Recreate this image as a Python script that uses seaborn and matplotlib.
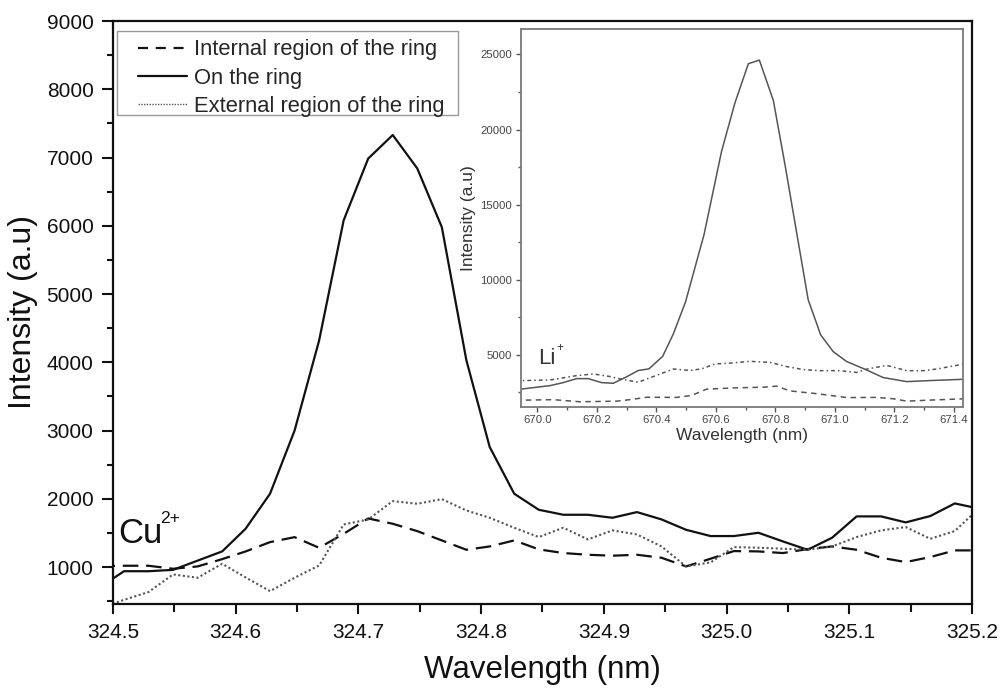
import matplotlib
matplotlib.use("Agg")
import matplotlib.pyplot as plt
import seaborn as sns
from matplotlib.lines import Line2D
from matplotlib.patches import Rectangle
from matplotlib.ticker import MultipleLocator, FormatStrFormatter

# ---- Cu II 324.75 nm region (main panel) ----
cu_wavelength = [324.489, 324.509, 324.529, 324.549, 324.569, 324.589, 324.608,
                 324.628, 324.648, 324.668, 324.688, 324.708, 324.728, 324.748,
                 324.768, 324.788, 324.807, 324.827, 324.847, 324.867, 324.887,
                 324.907, 324.927, 324.947, 324.967, 324.987, 325.006, 325.026,
                 325.046, 325.066, 325.086, 325.106, 325.126, 325.146, 325.166,
                 325.186, 325.205]
cu_internal = [1015, 1020, 1020, 976, 1010, 1117, 1229, 1366, 1439, 1283, 1488,
               1713, 1635, 1527, 1391, 1254, 1303, 1391, 1260, 1206, 1181, 1167,
               1181, 1137, 1010, 1123, 1235, 1230, 1206, 1264, 1303, 1254, 1137,
               1074, 1147, 1245, 1245]
cu_on_ring = [700, 940, 940, 960, 1095, 1230, 1560, 2075, 3000, 4320, 6080, 6985,
              7330, 6840, 5980, 4030, 2760, 2075, 1840, 1767, 1767, 1723, 1806,
              1699, 1547, 1455, 1455, 1503, 1376, 1254, 1430, 1743, 1743, 1655,
              1748, 1933, 1860]
cu_external = [400, 520, 635, 893, 844, 1049, 850, 648, 844, 1024, 1625, 1698,
               1967, 1928, 1996, 1830, 1723, 1576, 1440, 1577, 1406, 1538, 1479,
               1303, 1010, 1069, 1293, 1284, 1269, 1254, 1303, 1440, 1538, 1587,
               1415, 1528, 1850]

# ---- Li I 670.8 nm region (inset) ----
li_wl_on = [669.928, 670.043, 670.087, 670.132, 670.171, 670.216, 670.255,
            670.298, 670.339, 670.375, 670.421, 670.457, 670.498, 670.560,
            670.619, 670.664, 670.709, 670.746, 670.793, 670.832, 670.910,
            670.952, 670.994, 671.039, 671.106, 671.162, 671.241, 671.319,
            671.437]
li_on = [2680, 2955, 3155, 3420, 3420, 3155, 3110, 3520, 3960, 4070, 4900, 6400,
         8530, 13000, 18550, 21780, 24380, 24620, 21930, 17670, 8670, 6330,
         5220, 4560, 4000, 3490, 3220, 3290, 3380]
li_wl_int = [669.928, 670.054, 670.143, 670.267, 670.323, 670.367, 670.468,
             670.518, 670.569, 670.658, 670.759, 670.804, 670.849, 670.938,
             671.039, 671.140, 671.196, 671.241, 671.319, 671.437]
li_int = [1980, 2020, 1880, 1920, 2050, 2180, 2170, 2300, 2720, 2800, 2850,
          2920, 2600, 2420, 2160, 2170, 2080, 1920, 1990, 2080]
li_wl_ext = [669.928, 670.043, 670.132, 670.188, 670.244, 670.283, 670.339,
             670.390, 670.457, 670.513, 670.552, 670.597, 670.647, 670.714,
             670.782, 670.838, 670.894, 670.950, 671.017, 671.073, 671.106,
             671.174, 671.241, 671.297, 671.342, 671.386, 671.437]
li_ext = [3280, 3330, 3620, 3730, 3560, 3380, 3180, 3560, 4060, 3960, 4070, 4400,
          4450, 4570, 4500, 4220, 4020, 3950, 3950, 3830, 4050, 4300, 3950, 3950,
          4060, 4220, 4400]

series_labels = ["Internal region of the ring", "On the ring",
                 "External region of the ring"]

sns.set_theme(style="ticks")
plt.rcParams["font.family"] = ["Liberation Sans", "DejaVu Sans"]

fig = plt.figure(figsize=(10.04, 6.89), dpi=100)
fig.patch.set_facecolor("white")

# ---------------- main axes ----------------
ax = fig.add_axes([0.1125, 0.1234, 0.8556, 0.8461])
ax.set_facecolor("white")

dash_main = (0, (7, 3.5))
dot_main = (0, (1, 1.2))
common = dict(estimator=None, sort=False, errorbar=None)
sns.lineplot(x=cu_wavelength, y=cu_internal, ax=ax, color="#111111",
             linewidth=1.6, linestyle=dash_main, **common)
sns.lineplot(x=cu_wavelength, y=cu_on_ring, ax=ax, color="#111111",
             linewidth=1.6, linestyle="-", **common)
sns.lineplot(x=cu_wavelength, y=cu_external, ax=ax, color="#555555",
             linewidth=1.5, linestyle=dot_main, **common)

ax.set_xlim(324.5, 325.2)
ax.set_ylim(460, 9000)
ax.xaxis.set_major_locator(MultipleLocator(0.1))
ax.xaxis.set_minor_locator(MultipleLocator(0.05))
ax.xaxis.set_major_formatter(FormatStrFormatter("%.1f"))
ax.yaxis.set_major_locator(MultipleLocator(1000))
ax.yaxis.set_minor_locator(MultipleLocator(500))

for s in ax.spines.values():
    s.set_color("#111111")
    s.set_linewidth(1.6)
ax.tick_params(axis="both", which="both", direction="out", color="#111111",
               width=1.5, labelsize=15, labelcolor="#111111",
               top=False, right=False)
ax.tick_params(axis="y", which="major", length=8, pad=6)
ax.tick_params(axis="y", which="minor", length=4.5)
ax.tick_params(axis="x", which="major", length=7, pad=7)
ax.tick_params(axis="x", which="minor", length=5.5)

ax.set_xlabel("Wavelength (nm)", fontsize=22.5, color="#111111", labelpad=9)
ax.set_ylabel("Intensity (a.u)", fontsize=23, color="#111111", labelpad=6)

# ion labels: element symbol plus a small raised charge
ax.text(324.504, 1352, "Cu", fontsize=25, color="#111111",
        ha="left", va="baseline")
ax.text(324.5385, 1650, "2+", fontsize=12.5, color="#111111",
        ha="left", va="baseline")

# legend with a plain rectangular frame
handles = [
    Line2D([], [], color="#111111", linewidth=1.6, linestyle=(0, (4.5, 3.5))),
    Line2D([], [], color="#111111", linewidth=1.6, linestyle="-"),
    Line2D([], [], color="#555555", linewidth=1.0, linestyle=(0, (1, 1))),
]
fig.legend(handles, series_labels, loc="upper left",
           bbox_to_anchor=(137.7 / 1004, 1 - 39.5 / 689),
           bbox_transform=fig.transFigure, frameon=False, fontsize=15.8,
           handlelength=2.25, handletextpad=0.3, labelspacing=0.32,
           borderpad=0, borderaxespad=0)
fig.patches.append(Rectangle((116.7 / 1004, 1 - 115 / 689), 341 / 1004,
                             84.3 / 689, transform=fig.transFigure,
                             fill=False, edgecolor="#9a9a9a", linewidth=1.0))

# ---------------- inset axes ----------------
axin = fig.add_axes([0.5186, 0.4097, 0.4408, 0.5482])
axin.set_facecolor("white")
inset_gray = "#555555"
sns.lineplot(x=li_wl_int, y=li_int, ax=axin, color=inset_gray, linewidth=1.1,
             linestyle=(0, (3.6, 2.9)), **common)
sns.lineplot(x=li_wl_on, y=li_on, ax=axin, color=inset_gray, linewidth=1.1,
             linestyle="-", **common)
sns.lineplot(x=li_wl_ext, y=li_ext, ax=axin, color=inset_gray, linewidth=1.1,
             linestyle=(0, (2.5, 2, 1, 2)), **common)

axin.set_xlim(669.944, 671.431)
axin.set_ylim(1550, 26690)
axin.xaxis.set_major_locator(MultipleLocator(0.2))
axin.xaxis.set_minor_locator(MultipleLocator(0.1))
axin.xaxis.set_major_formatter(FormatStrFormatter("%.1f"))
axin.yaxis.set_major_locator(MultipleLocator(5000))
axin.yaxis.set_minor_locator(MultipleLocator(2500))
for s in axin.spines.values():
    s.set_color("#7a7a7a")
    s.set_linewidth(1.3)
axin.tick_params(axis="both", which="both", direction="out", color="#555555",
                 width=1.0, labelsize=8.2, labelcolor="#444444",
                 top=False, right=False, pad=2.5)
axin.tick_params(axis="both", which="major", length=3.5)
axin.tick_params(axis="both", which="minor", length=2.2)
axin.set_xlabel("Wavelength (nm)", fontsize=12.5, color="#333333", labelpad=2)
axin.set_ylabel("Intensity (a.u)", fontsize=12.5, color="#333333", labelpad=3)

axin.text(670.002, 4380, "Li", fontsize=16, color="#333333",
          ha="left", va="baseline")
axin.text(670.063, 5230, "+", fontsize=8.5, color="#333333",
          ha="left", va="baseline")

fig.savefig("out.png", dpi=100, facecolor="white")
